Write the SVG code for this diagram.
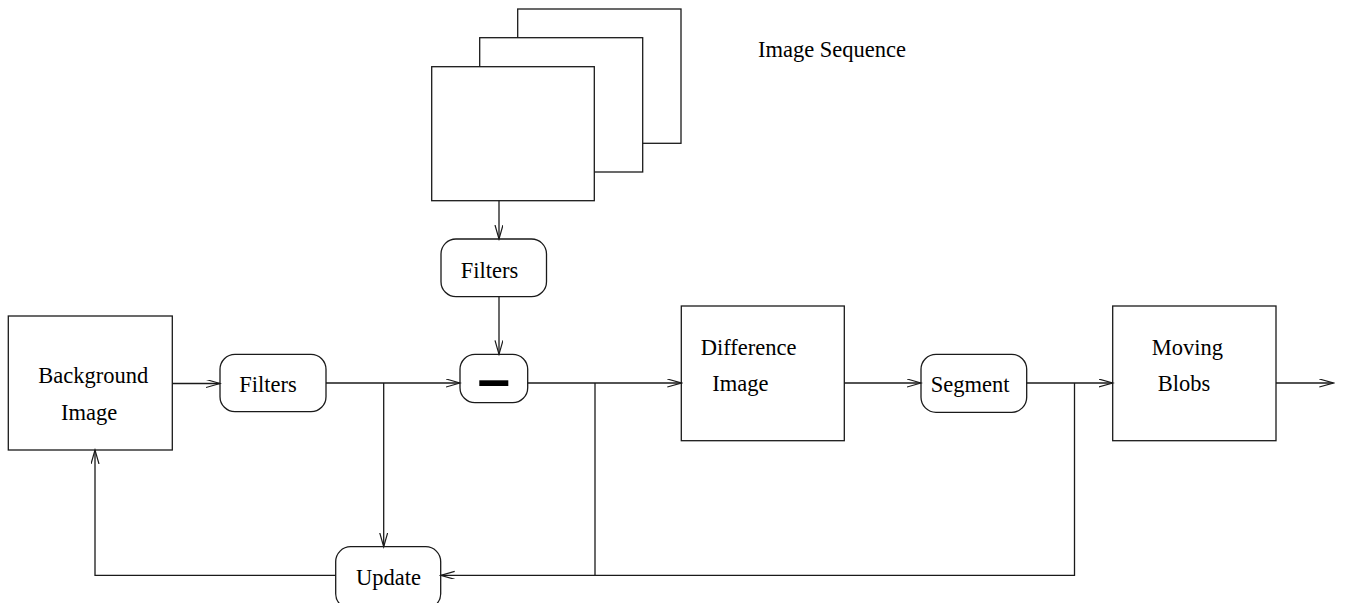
<svg xmlns="http://www.w3.org/2000/svg" width="1348" height="603" viewBox="0 0 1348 603">
<style>
.box{fill:#fff;stroke:#1a1a1a;stroke-width:1.3}
.ln{fill:none;stroke:#1a1a1a;stroke-width:1.3}
.t{font-family:"Liberation Serif","Times New Roman",serif;font-size:22.5px;fill:#000}
</style>
<defs>
<marker id="ah" markerUnits="userSpaceOnUse" markerWidth="16" markerHeight="10" refX="14" refY="4" orient="auto" viewBox="0 0 16 10">
<path d="M0,0 L14,4 L0,8" fill="none" stroke="#1a1a1a" stroke-width="1.2"/>
</marker>
</defs>
<rect width="1348" height="603" fill="#fff"/>
<g id="image-sequence">
<rect class="box" x="517.7" y="9" width="163.3" height="134.3"/>
<rect class="box" x="479.7" y="37.7" width="163" height="134.3"/>
<rect class="box" x="431.7" y="66.7" width="162.6" height="134"/>
<text class="t" x="758" y="57">Image Sequence</text>
</g>
<g id="filters-top">
<rect class="box" x="441" y="239" width="105.5" height="57.7" rx="15"/>
<text class="t" x="460.7" y="277.5">Filters</text>
</g>
<g id="minus">
<rect class="box" x="460" y="354.3" width="67.7" height="48.4" rx="15"/>
<rect x="479.3" y="380.3" width="29" height="5.7" fill="#000"/>
</g>
<g id="background-image">
<rect class="box" x="8.3" y="316" width="164" height="134"/>
<text class="t" x="38.3" y="382.7">Background</text>
<text class="t" x="61" y="420">Image</text>
</g>
<g id="filters-left">
<rect class="box" x="220" y="354.3" width="106" height="57.4" rx="15"/>
<text class="t" x="239.3" y="392.3">Filters</text>
</g>
<g id="difference-image">
<rect class="box" x="681.3" y="306" width="163" height="134.7"/>
<text class="t" x="700.7" y="355">Difference</text>
<text class="t" x="712.3" y="391">Image</text>
</g>
<g id="segment">
<rect class="box" x="921" y="354.3" width="105.7" height="58" rx="15"/>
<text class="t" x="930.7" y="391.7">Segment</text>
</g>
<g id="moving-blobs">
<rect class="box" x="1112.7" y="306" width="163.3" height="134.7"/>
<text class="t" x="1151.7" y="355">Moving</text>
<text class="t" x="1157.7" y="391">Blobs</text>
</g>
<g id="update">
<rect class="box" x="335.7" y="546.7" width="105" height="62" rx="15"/>
<text class="t" x="356" y="585">Update</text>
</g>
<g id="connectors">
<path class="ln" d="M499,200.7 L499,239" marker-end="url(#ah)"/>
<path class="ln" d="M499,296.7 L499,354.3" marker-end="url(#ah)"/>
<path class="ln" d="M172.3,383.5 L220,383.5" marker-end="url(#ah)"/>
<path class="ln" d="M326,383 L460,383" marker-end="url(#ah)"/>
<path class="ln" d="M383.7,383 L383.7,546.7" marker-end="url(#ah)"/>
<path class="ln" d="M527.7,383 L681.3,383" marker-end="url(#ah)"/>
<path class="ln" d="M595,383 L595,575.3"/>
<path class="ln" d="M844.3,383 L921,383" marker-end="url(#ah)"/>
<path class="ln" d="M1026.7,383 L1112.7,383" marker-end="url(#ah)"/>
<path class="ln" d="M1074.5,383 L1074.5,575.3 L440.7,575.3" marker-end="url(#ah)"/>
<path class="ln" d="M335.7,575.3 L95,575.3 L95,450" marker-end="url(#ah)"/>
<path class="ln" d="M1276,383 L1333.3,383" marker-end="url(#ah)"/>
</g>
</svg>
